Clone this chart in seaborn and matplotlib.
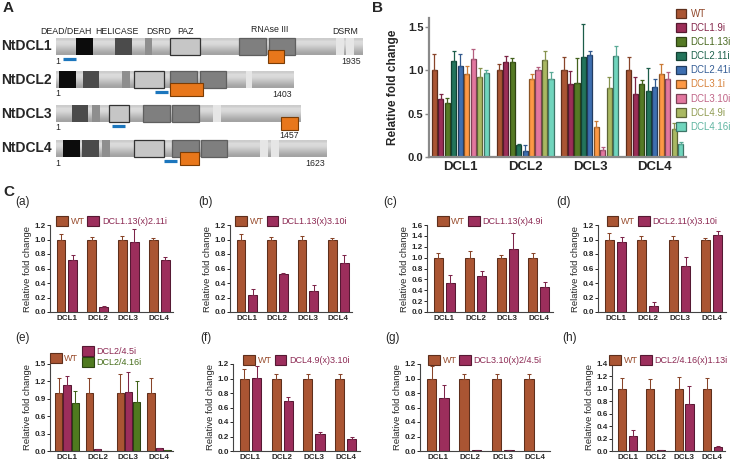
"""
DCL knock-down figure: protein maps (A), single-line qPCR (B) and
crossed-line qPCR panels (C a-h).
"""
import matplotlib as mpl
mpl.use("Agg")
import matplotlib.pyplot as plt
from matplotlib.colors import to_rgb
from matplotlib.patches import Patch, Rectangle
import numpy as np
import pandas as pd
import seaborn as sns

FIG_W, FIG_H = 730, 462
GENES = ["DCL1", "DCL2", "DCL3", "DCL4"]

# ---- panel A: schematic protein maps (positions along the drawn track) ----
PROTEINS = ["NtDCL1", "NtDCL2", "NtDCL3", "NtDCL4"]
PROTEIN_LENGTHS = [1935, 1403, 1457, 1623]
DOMAIN_NAMES = ["DEAD/DEAH", "HELICASE", "DSRD", "PAZ", "RNAse III", "DSRM"]
TRACK_SPANS = [(56, 363), (56, 294), (56, 301), (56, 327)]
DCL1_DOMAINS = [("dead", 76, 93), ("helicase", 115, 132), ("dsrd", 145, 152),
                ("paz", 170, 200), ("rnase", 239, 266), ("rnase", 269, 295),
                ("dsrm", 336, 344), ("dsrm", 346, 354)]
DCL2_DOMAINS = [("dead", 59, 76), ("helicase", 83, 99), ("dsrd", 122, 130),
                ("paz", 134, 164), ("rnase", 170, 197), ("rnase", 200, 226),
                ("dsrm", 246, 252)]
DCL3_DOMAINS = [("helicase", 72, 88), ("dsrd", 92, 100), ("paz", 109, 129),
                ("rnase", 143, 170), ("rnase", 172, 199), ("dsrm", 213, 221)]
DCL4_DOMAINS = [("dead", 63, 80), ("helicase", 82, 99), ("dsrd", 102, 110),
                ("paz", 134, 164), ("rnase", 172, 199), ("rnase", 201, 227),
                ("dsrm", 260, 268), ("dsrm", 271, 279)]
TARGET_SPANS = [(268, 284), (170, 203), (281, 298), (180, 199)]
PROBE_SPANS = [(63, 76), (155, 168), (112, 125), (164, 177)]

# ---- panel B ----
B_LINES = ["WT", "DCL1.9i", "DCL1.13i", "DCL2.11i", "DCL2.41i",
           "DCL3.1i", "DCL3.10i", "DCL4.9i", "DCL4.16i"]
B_MEANS = [[1.00, 1.00, 1.00, 1.00],
           [0.67, 1.09, 0.84, 0.73],
           [0.62, 1.09, 0.85, 0.84],
           [1.10, 0.14, 1.15, 0.76],
           [1.05, 0.07, 1.17, 0.80],
           [0.96, 0.90, 0.35, 0.95],
           [1.13, 1.00, 0.08, 0.90],
           [0.92, 1.12, 0.79, 0.32],
           [0.97, 0.90, 1.16, 0.15]]
B_ERRS = [[0.19, 0.07, 0.15, 0.15],
          [0.06, 0.07, 0.15, 0.19],
          [0.06, 0.05, 0.29, 0.05],
          [0.12, 0.01, 0.38, 0.26],
          [0.13, 0.07, 0.05, 0.10],
          [0.09, 0.06, 0.07, 0.12],
          [0.11, 0.04, 0.04, 0.08],
          [0.10, 0.10, 0.13, 0.07],
          [0.03, 0.08, 0.12, 0.02]]
B_COLORS = ["#aa5533", "#9c2e58", "#557a25", "#23745b", "#3e6fb0",
            "#fd9844", "#e2779f", "#a9b862", "#70d5bd"]

# ---- panel C ----
C_TAGS = ["(a)", "(b)", "(c)", "(d)", "(e)", "(f)", "(g)", "(h)"]
C_MUTANTS = [["DCL1.13(x)2.11i"], ["DCL1.13(x)3.10i"], ["DCL1.13(x)4.9i"],
             ["DCL2.11(x)3.10i"], ["DCL2/4.5i", "DCL2/4.16i"],
             ["DCL4.9(x)3.10i"], ["DCL3.10(x)2/4.5i"], ["DCL2/4.16(x)1.13i"]]
C_WT_MEANS = [1.0, 1.0, 1.0, 1.0]
C_WT_ERRS = [[0.07, 0.04, 0.05, 0.02],
             [0.08, 0.04, 0.05, 0.02],
             [0.09, 0.12, 0.04, 0.09],
             [0.09, 0.05, 0.05, 0.02],
             [0.26, 0.26, 0.33, 0.26],
             [0.13, 0.06, 0.06, 0.06],
             [0.17, 0.06, 0.06, 0.06],
             [0.18, 0.16, 0.19, 0.18]]
C_MUT_MEANS = [[[0.72, 0.07, 0.96, 0.72]],
               [[0.23, 0.53, 0.29, 0.67]],
               [[0.53, 0.67, 1.16, 0.46]],
               [[0.97, 0.08, 0.64, 1.06]],
               [[1.14, 0.03, 1.01, 0.045], [0.82, 0.0, 0.85, 0.02]],
               [[1.01, 0.69, 0.23, 0.17]],
               [[0.73, 0.01, 0.01, 0.0]],
               [[0.24, 0.02, 0.76, 0.07]]]
C_MUT_ERRS = [[[0.07, 0.01, 0.19, 0.04]],
              [[0.09, 0.01, 0.08, 0.12]],
              [[0.15, 0.08, 0.29, 0.09]],
              [[0.06, 0.06, 0.12, 0.06]],
              [[0.15, 0.0, 0.35, 0.0], [0.21, 0.0, 0.36, 0.0]],
              [[0.16, 0.05, 0.03, 0.02]],
              [[0.18, 0.0, 0.0, 0.0]],
              [[0.10, 0.0, 0.29, 0.01]]]
C_YMAX = [1.2, 1.2, 1.6, 1.2, 1.5, 1.2, 1.2, 1.4]
C_YSTEP = [0.2, 0.2, 0.2, 0.2, 0.3, 0.2, 0.2, 0.2]
C_COLORS = ["#aa5533", "#9c2e5c", "#4f7a1f"]

# ---- layout, pixel boxes (left, top, right, bottom) ----
B_BOX = (429, 18, 686, 157)
C_BOXES = [(50, 225, 173, 312), (230, 225, 352, 312),
           (427, 225, 553, 312), (598, 225, 726, 312),
           (50, 364, 173, 451), (233, 364, 360, 451),
           (420, 364, 550, 451), (612, 364, 725, 451)]
C_TAG_XY = [(15, 202), (198, 202), (383, 202), (556, 202),
            (15, 338), (200, 338), (385, 338), (562, 338)]


def _dark(color, f=0.62):
    return tuple(np.array(to_rgb(color)) * f)


def _px_axes(fig, box):
    l, t, r, b = box
    return fig.add_axes([l / FIG_W, 1 - b / FIG_H, (r - l) / FIG_W, (b - t) / FIG_H])


def _fig_text(fig, x, y, s, **kw):
    fig.text(x / FIG_W, 1 - y / FIG_H, s, **kw)


def _style_axes(ax, color, lw):
    sns.despine(ax=ax)
    for side in ("left", "bottom"):
        ax.spines[side].set_color(color)
        ax.spines[side].set_linewidth(lw)


def _edges_and_errors(ax, colors, errs, lw, capsize):
    """Darker bar outlines plus upper-only error bars, as in GraphPad."""
    for cont, color, err in zip(ax.containers, colors, errs):
        xs, ys = [], []
        for bar in cont:
            bar.set_edgecolor(_dark(color, 0.55))
            bar.set_linewidth(lw)
            xs.append(bar.get_x() + bar.get_width() / 2)
            ys.append(bar.get_height())
        ax.errorbar(xs, ys, yerr=[np.zeros(len(err)), err], fmt="none",
                    ecolor=_dark(color, 0.8), elinewidth=lw, capsize=capsize,
                    capthick=lw, zorder=1, clip_on=False)


def draw_panel_a(fig):
    ax = _px_axes(fig, (0, 0, 370, 180))
    ax.set_xlim(0, 370)
    ax.set_ylim(180, 0)
    ax.axis("off")
    fills = {"dead": "#0c0c0c", "helicase": "#4b4b4b", "dsrd": "#8e8e8e",
             "paz": "#c6c6c6", "rnase": "#7f7f7f", "dsrm": "#e6e6e6"}
    edges = {"paz": "#333333", "rnase": "#5f5f5f"}
    grad = np.array([0.80, 0.86, 0.85, 0.80, 0.74, 0.68, 0.64])[:, None]
    domains = [DCL1_DOMAINS, DCL2_DOMAINS, DCL3_DOMAINS, DCL4_DOMAINS]
    track_tops = [38, 71, 105, 140]
    h = 17
    for i, name in enumerate(PROTEINS):
        x0, x1 = TRACK_SPANS[i]
        top = track_tops[i]
        bot = top + h
        ax.imshow(grad, cmap="gray", vmin=0, vmax=1, aspect="auto",
                  extent=(x0, x1, bot, top), interpolation="bilinear", zorder=1)
        for kind, d0, d1 in domains[i]:
            ax.add_patch(Rectangle((d0, top), d1 - d0, h, facecolor=fills[kind],
                                   edgecolor=edges.get(kind, "none"),
                                   linewidth=0.9, zorder=2))
        t0, t1 = TARGET_SPANS[i]
        ax.add_patch(Rectangle((t0, top + 12), t1 - t0, 12.5, facecolor="#e8771b",
                               edgecolor="#7a3c05", linewidth=0.8, zorder=3))
        p0, p1 = PROBE_SPANS[i]
        ax.plot([p0, p1], [bot + 4, bot + 4], color="#1c76bd", lw=2.3,
                solid_capstyle="butt", zorder=3)
        ax.text(52, top + h / 2, name, ha="right", va="center",
                fontsize=10, fontweight="bold")
        ax.text(58, bot + 6, "1", ha="center", va="center", fontsize=6.3)
        len_y = top + 12 + 12.5 + 6 if t1 > x1 - 25 else bot + 6.5
        ax.text(x1 - 2, len_y, str(PROTEIN_LENGTHS[i]), ha="right",
                va="center", fontsize=6.3)
    header_x = [66, 117, 159, 185, 270, 345]
    header_y = [31, 31, 31, 31, 29, 31]
    for s, x, y in zip(DOMAIN_NAMES, header_x, header_y):
        ax.text(x, y, s, ha="center", va="center", fontsize=6.3, color="#222222")


def draw_panel_b(fig):
    ax = _px_axes(fig, B_BOX)
    df = pd.DataFrame([(line, g, m) for line, row in zip(B_LINES, B_MEANS)
                       for g, m in zip(GENES, row)],
                      columns=["line", "gene", "fold"])
    sns.barplot(data=df, x="gene", y="fold", hue="line", hue_order=B_LINES,
                palette=B_COLORS, saturation=1, width=0.9, gap=0.22,
                errorbar=None, legend=False, ax=ax)
    _edges_and_errors(ax, B_COLORS, B_ERRS, lw=0.9, capsize=1.3)
    ax.set_xlim(-0.48, 3.48)
    ax.set_ylim(0, 1.6)
    ax.set_yticks([0, 0.5, 1.0, 1.5], ["0.0", "0.5", "1.0", "1.5"])
    ax.set_xlabel("")
    ax.set_ylabel("Relative fold change", fontsize=8.5, fontweight="bold",
                  labelpad=6)
    _style_axes(ax, "#8a8a8a", 1.6)
    ax.tick_params(axis="y", length=3, width=1, color="#8a8a8a", pad=1,
                   labelsize=8)
    ax.tick_params(axis="x", length=0, pad=3, labelsize=9.5)
    for lab in ax.get_xticklabels() + ax.get_yticklabels():
        lab.set_fontweight("bold")
    handles = [Patch(facecolor=c, edgecolor=_dark(c, 0.55), linewidth=0.9)
               for c in B_COLORS]
    leg = fig.legend(handles, B_LINES, loc="upper left",
                     bbox_to_anchor=(676 / FIG_W, 1 - 9 / FIG_H),
                     frameon=False, fontsize=7, borderpad=0, borderaxespad=0,
                     handlelength=1.05, handleheight=1.0, handletextpad=0.45,
                     labelspacing=0.42)
    for txt, c in zip(leg.get_texts(), B_COLORS):
        txt.set_color(_dark(c, 0.85))


def draw_cross_panel(fig, k):
    ax = _px_axes(fig, C_BOXES[k])
    labels = ["WT"] + C_MUTANTS[k]
    means = [C_WT_MEANS] + C_MUT_MEANS[k]
    errs = [C_WT_ERRS[k]] + C_MUT_ERRS[k]
    colors = C_COLORS[:len(labels)]
    df = pd.DataFrame([(lab, g, m) for lab, row in zip(labels, means)
                       for g, m in zip(GENES, row)],
                      columns=["line", "gene", "fold"])
    three = len(labels) == 3
    sns.barplot(data=df, x="gene", y="fold", hue="line", hue_order=labels,
                palette=colors, saturation=1, width=0.8 if three else 0.77,
                gap=0.12 if three else 0.25, errorbar=None, legend=False, ax=ax)
    _edges_and_errors(ax, colors, errs, lw=0.75, capsize=1.6)
    ymax, step = C_YMAX[k], C_YSTEP[k]
    ticks = np.round(np.arange(0, ymax + step / 2, step), 1)
    ax.set_xlim(-0.55, 3.45)
    ax.set_ylim(0, ymax)
    ax.set_yticks(ticks, [f"{t:.1f}" for t in ticks])
    ax.set_xlabel("")
    ax.set_ylabel("Relative fold change", fontsize=6.8, labelpad=2)
    _style_axes(ax, "#444444", 0.8)
    ax.tick_params(axis="y", length=2, width=0.7, pad=1, labelsize=5.8)
    ax.tick_params(axis="x", length=0, pad=2.5, labelsize=5.8)
    for lab in ax.get_xticklabels() + ax.get_yticklabels():
        lab.set_fontweight("bold")

    handles = [Patch(facecolor=c, edgecolor=_dark(c, 0.55), linewidth=0.8)
               for c in colors]
    leg_kw = dict(frameon=False, fontsize=6.5, borderpad=0, borderaxespad=0,
                  handlelength=1.3, handleheight=1.3, handletextpad=0.3,
                  columnspacing=0.3, labelspacing=0.05)
    if three:
        leg_wt = ax.legend(handles[:1], labels[:1], loc="center left",
                           bbox_to_anchor=(0.0, 1.07), **leg_kw)
        ax.add_artist(leg_wt)
        leg_mut = ax.legend(handles[1:], labels[1:], loc="center left",
                            bbox_to_anchor=(0.26, 1.085), **leg_kw)
        texts = leg_wt.get_texts() + leg_mut.get_texts()
    else:
        leg = ax.legend(handles, labels, loc="lower center", ncol=2,
                        bbox_to_anchor=(0.5, 0.99), **leg_kw)
        texts = leg.get_texts()
    for txt, c in zip(texts, colors):
        txt.set_color(_dark(c, 0.9))
    _fig_text(fig, *C_TAG_XY[k], C_TAGS[k], ha="left", va="center", fontsize=8.5)


def main():
    sns.set_theme(style="ticks")
    plt.rcParams["font.family"] = ["Liberation Sans", "DejaVu Sans"]
    fig = plt.figure(figsize=(FIG_W / 100, FIG_H / 100), dpi=100)
    draw_panel_a(fig)
    draw_panel_b(fig)
    for k in range(len(C_TAGS)):
        draw_cross_panel(fig, k)
    for s, x, y in [("A", 3, 8), ("B", 372, 8), ("C", 3, 192)]:
        _fig_text(fig, x, y, s, ha="left", va="center", fontsize=11,
                  fontweight="bold")
    fig.savefig("out.png", dpi=100, facecolor="white")


if __name__ == "__main__":
    main()
